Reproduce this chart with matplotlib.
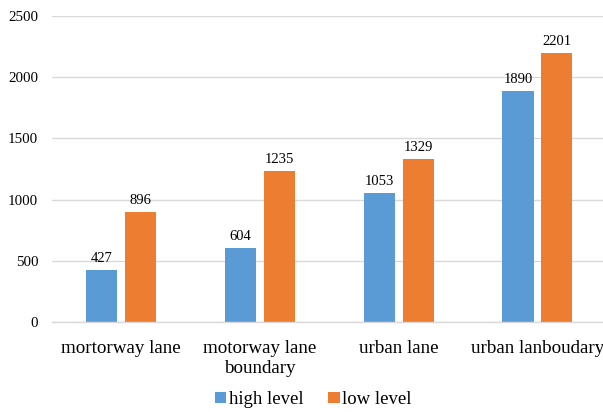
import matplotlib.pyplot as plt
import numpy as np

categories = ["mortorway lane", "motorway lane\nboundary", "urban lane", "urban lanboudary"]
high_level = [427, 604, 1053, 1890]
low_level = [896, 1235, 1329, 2201]

plt.rcParams['font.family'] = ['Liberation Serif', 'DejaVu Serif']

fig = plt.figure(figsize=(6.03, 4.12), dpi=100)
ax = fig.add_axes([0.0862, 0.2184, 0.920, 0.7427])

x = np.arange(len(categories))
w = 0.224
off = 0.14
b1 = ax.bar(x - off, high_level, w, color="#5B9BD5", label="high level")
b2 = ax.bar(x + off, low_level, w, color="#ED7D31", label="low level")

for bars, vals in ((b1, high_level), (b2, low_level)):
    for b, v in zip(bars, vals):
        ax.text(b.get_x() + b.get_width() / 2, v + 40, str(v),
                ha="center", va="bottom", fontsize=10.5)

ax.set_xlim(-0.5, 3.5)
ax.set_ylim(0, 2500)
ax.set_yticks(np.arange(0, 2501, 500))
ax.set_xticks(x)
ax.set_xticklabels(categories, fontsize=13.7, linespacing=1.2)
ax.tick_params(axis="y", labelsize=10.8, length=0, pad=10)
ax.tick_params(axis="x", length=0, pad=13)

ax.grid(axis="y", color="#D9D9D9", linewidth=1)
ax.set_axisbelow(True)
for s in ("top", "right", "left"):
    ax.spines[s].set_visible(False)
ax.spines["bottom"].set_color("#D9D9D9")
ax.spines["bottom"].set_linewidth(1)

fig.legend(loc="center", bbox_to_anchor=(0.52, 0.03), ncol=2, frameon=False,
           fontsize=13.5, handlelength=0.6, handleheight=0.6,
           handletextpad=0.15, columnspacing=1.3)

fig.savefig("out.png", dpi=100)
